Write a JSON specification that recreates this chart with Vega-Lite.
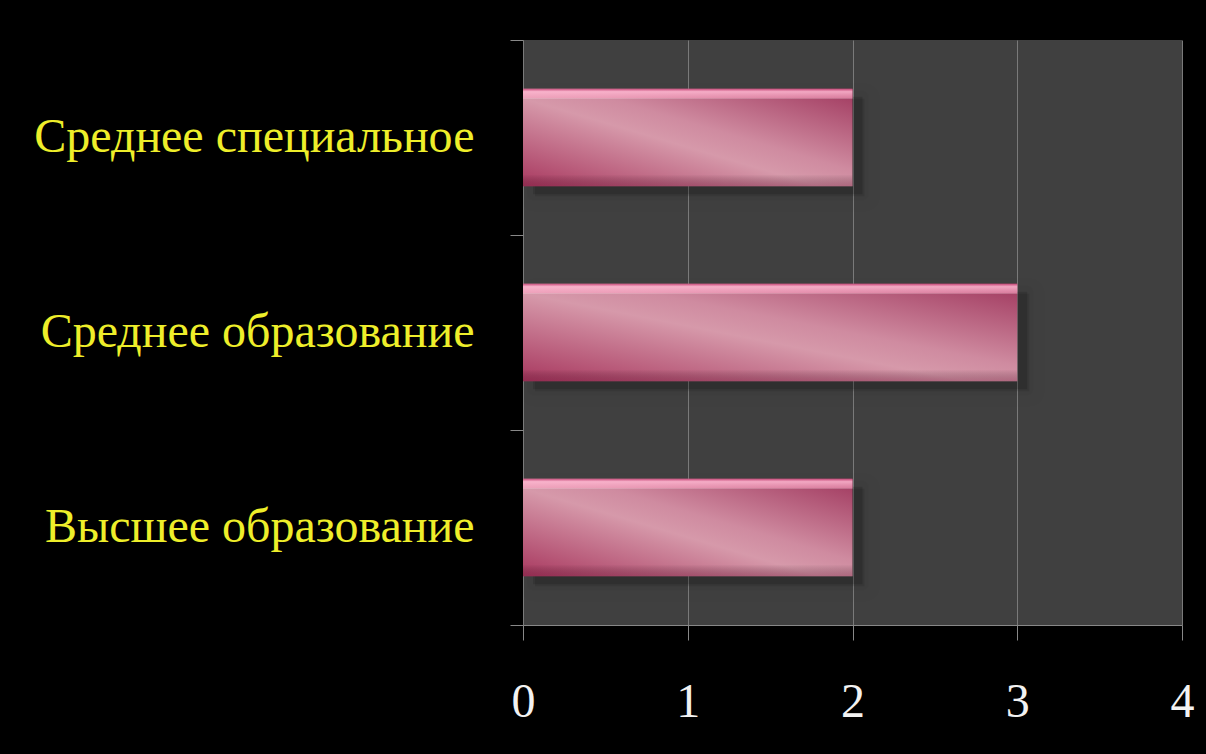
{
  "$schema": "https://vega.github.io/schema/vega-lite/v6.json",
  "autosize": {"type": "none"},
  "width": 659,
  "height": 585,
  "padding": {"left": 523, "top": 40, "right": 24, "bottom": 129},
  "background": "#000000",
  "data": {
    "values": [
      {"level": "Среднее специальное", "count": 2},
      {"level": "Среднее образование", "count": 3},
      {"level": "Высшее образование", "count": 2}
    ]
  },
  "encoding": {
    "y": {
      "field": "level",
      "type": "nominal",
      "sort": null,
      "title": null,
      "scale": {"paddingInner": 0, "paddingOuter": 0},
      "axis": {
        "tickBand": "extent",
        "tickSize": 13,
        "tickColor": "#888888",
        "domain": false,
        "labelFont": "Liberation Serif",
        "labelFontSize": 48,
        "labelColor": "#eeee2a",
        "labelPadding": 36,
        "labelLimit": 600
      }
    },
    "x": {
      "field": "count",
      "type": "quantitative",
      "title": null,
      "scale": {"domain": [0, 4], "nice": false},
      "axis": {
        "values": [0, 1, 2, 3, 4],
        "tickSize": 15,
        "tickColor": "#888888",
        "domainColor": "#888888",
        "gridColor": "#7a7a7a",
        "gridWidth": 1,
        "labelFont": "Liberation Serif",
        "labelFontSize": 48,
        "labelColor": "#f2f2f2",
        "labelPadding": 38,
        "labelFlush": false
      }
    }
  },
  "layer": [
    {
      "mark": {
        "type": "bar",
        "height": {"band": 0.5},
        "color": "#000000",
        "opacity": 0.12,
        "stroke": "#000000",
        "strokeWidth": 30,
        "strokeOpacity": 0.08,
        "strokeJoin": "round",
        "xOffset": 12,
        "yOffset": 10
      }
    },
    {
      "mark": {
        "type": "bar",
        "height": {"band": 0.5},
        "color": "#000000",
        "opacity": 0.15,
        "stroke": "#000000",
        "strokeWidth": 12,
        "strokeOpacity": 0.1,
        "strokeJoin": "round",
        "xOffset": 10,
        "yOffset": 8
      }
    },
    {
      "mark": {
        "type": "bar",
        "height": {"band": 0.5},
        "color": {
          "gradient": "linear",
          "x1": 0, "y1": 1, "x2": 1, "y2": 0,
          "stops": [
            {"offset": 0, "color": "#a8385f"},
            {"offset": 0.45, "color": "#d699aa"},
            {"offset": 0.58, "color": "#cf8ba0"},
            {"offset": 1, "color": "#a0385e"}
          ]
        }
      }
    },
    {
      "mark": {
        "type": "bar",
        "height": {"band": 0.5},
        "color": {
          "gradient": "linear",
          "x1": 0, "y1": 0, "x2": 0, "y2": 1,
          "stops": [
            {"offset": 0, "color": "rgba(200,70,120,0.9)"},
            {"offset": 0.03, "color": "rgba(255,185,210,0.85)"},
            {"offset": 0.09, "color": "rgba(255,170,200,0.6)"},
            {"offset": 0.11, "color": "rgba(255,255,255,0)"},
            {"offset": 0.88, "color": "rgba(0,0,0,0)"},
            {"offset": 1, "color": "rgba(110,20,55,0.35)"}
          ]
        }
      }
    }
  ],
  "config": {
    "view": {"fill": "#404040", "stroke": null}
  }
}
